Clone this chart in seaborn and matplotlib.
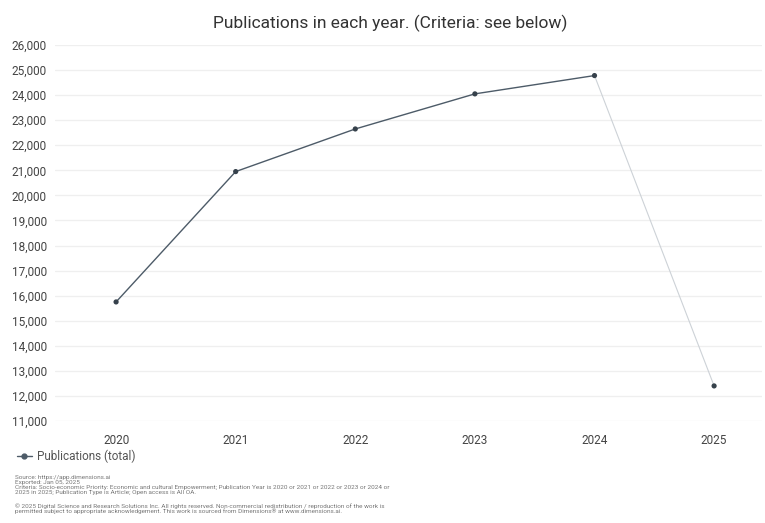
import matplotlib
matplotlib.use("Agg")
import matplotlib.pyplot as plt
import seaborn as sns
import pandas as pd
from matplotlib.lines import Line2D
from matplotlib.ticker import FuncFormatter

# data
years = ["2020", "2021", "2022", "2023", "2024", "2025"]
publications = [15750, 20950, 22650, 24050, 24780, 12400]
series_name = "Publications (total)"

footer_lines = [
    "Source: https://app.dimensions.ai",
    "Exported: Jan 05, 2025",
    "Criteria: Socio-economic Priority: Economic and cultural Empowerment; Publication Year is 2020 or 2021 or 2022 or 2023 or 2024 or",
    "2025 in 2025; Publication Type is Article; Open access is All OA.",
]
copyright_lines = [
    "\u00a9 2025 Digital Science and Research Solutions Inc. All rights reserved. Non-commercial redistribution / reproduction of the work is",
    "permitted subject to appropriate acknowledgement. This work is sourced from Dimensions\u00ae at www.dimensions.ai.",
]

df = pd.DataFrame({"idx": range(len(years)), "year": years, "value": publications})

sns.set_style("white")
plt.rcParams["font.family"] = ["Roboto", "DejaVu Sans"]

line_col = "#4d5b68"
fig = plt.figure(figsize=(7.65, 5.23), dpi=100)
ax = fig.add_axes([0.072, 0.195, 0.924, 0.719])

# full years solid, partial year lighter
sns.lineplot(data=df.iloc[:5], x="idx", y="value", ax=ax, color=line_col, linewidth=1.0)
sns.lineplot(data=df.iloc[4:], x="idx", y="value", ax=ax, color="#cdd2d7", linewidth=0.8)
sns.scatterplot(data=df, x="idx", y="value", ax=ax, color="#36414b", s=14, edgecolor="none", zorder=5)

ax.set_ylim(11000, 26000)
ax.set_yticks(range(11000, 26001, 1000))
ax.yaxis.set_major_formatter(FuncFormatter(lambda v, p: f"{int(v):,}"))
ax.set_xlim(-0.51, 5.4)
ax.set_xticks(df["idx"])
ax.set_xticklabels(years)
ax.set_xlabel("")
ax.set_ylabel("")

ax.grid(axis="y", color="#efefef", linewidth=0.9)
ax.grid(axis="x", visible=False)
for s in ax.spines.values():
    s.set_visible(False)
ax.tick_params(axis="both", length=0, labelsize=8.5, labelcolor="#444444")
ax.tick_params(axis="y", pad=6)
ax.tick_params(axis="x", pad=9)

fig.text(0.51, 0.956, "Publications in each year. (Criteria: see below)",
         ha="center", va="center", fontsize=12.5, color="#333333")

handle = Line2D([0], [0], color=line_col, marker="o", markersize=3.5, linewidth=1.0)
fig.legend([handle], [series_name], loc="center left", bbox_to_anchor=(0.008, 0.127),
           frameon=False, fontsize=8.5, handlelength=1.3, handletextpad=0.4,
           labelcolor="#555555")

y0 = 477
for i, t in enumerate(footer_lines):
    fig.text(0.019, 1 - (y0 + i * 5.3) / 523, t, fontsize=4.6, color="#777777", va="center")
y1 = 506
for i, t in enumerate(copyright_lines):
    fig.text(0.019, 1 - (y1 + i * 5.3) / 523, t, fontsize=4.6, color="#777777", va="center")

fig.savefig("out.png", dpi=100)
